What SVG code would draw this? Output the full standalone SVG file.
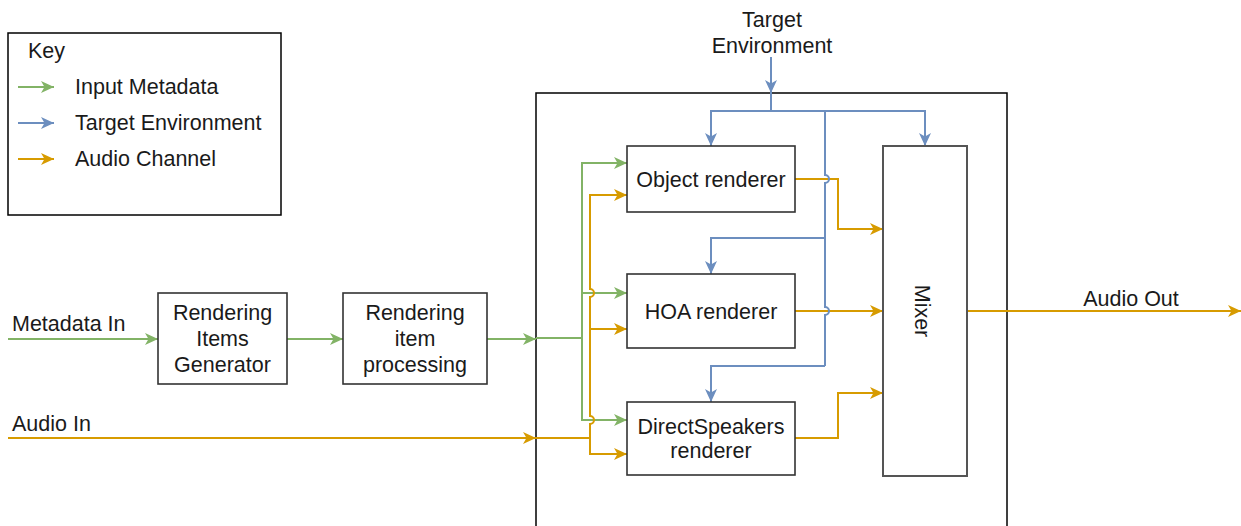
<svg xmlns="http://www.w3.org/2000/svg" width="1241" height="526" viewBox="0 0 1241 526">
<style>
text{font-family:"Liberation Sans",Arial,Helvetica,sans-serif;font-size:21.5px;fill:#1a1a1a}
.c{text-anchor:middle}
.node{fill:#fff;stroke:#333;stroke-width:1.6}
.frame{fill:none;stroke:#000;stroke-width:1.5}
.g{fill:none;stroke:#82b366;stroke-width:2}
.b{fill:none;stroke:#6c8ebf;stroke-width:2}
.o{fill:none;stroke:#d79b00;stroke-width:2}
.ga{marker-end:url(#mg)}
.ba{marker-end:url(#mb)}
.oa{marker-end:url(#mo)}
</style>
<defs>
<marker id="mg" markerUnits="userSpaceOnUse" markerWidth="15" markerHeight="15" refX="14" refY="7" orient="auto"><path d="M1,1 L14,7 L1,13 L4.5,7 Z" fill="#82b366"/></marker>
<marker id="mb" markerUnits="userSpaceOnUse" markerWidth="15" markerHeight="15" refX="14" refY="7" orient="auto"><path d="M1,1 L14,7 L1,13 L4.5,7 Z" fill="#6c8ebf"/></marker>
<marker id="mo" markerUnits="userSpaceOnUse" markerWidth="15" markerHeight="15" refX="14" refY="7" orient="auto"><path d="M1,1 L14,7 L1,13 L4.5,7 Z" fill="#d79b00"/></marker>
</defs>
<rect width="1241" height="526" fill="#fff"/>

<g id="key">
<rect class="frame" x="8" y="33" width="273" height="182"/>
<text x="28" y="58">Key</text>
<line class="g ga" x1="18" y1="87" x2="54" y2="87"/>
<line class="b ba" x1="18" y1="123" x2="54" y2="123"/>
<line class="o oa" x1="18" y1="159" x2="54" y2="159"/>
<text x="75" y="94">Input Metadata</text>
<text x="75" y="130">Target Environment</text>
<text x="75" y="166">Audio Channel</text>
</g>

<g id="renderer-container">
<rect class="frame" x="536" y="93" width="471" height="440"/>
</g>

<g id="labels">
<text class="c" x="772" y="27">Target</text>
<text class="c" x="772" y="53">Environment</text>
<text x="12" y="331">Metadata In</text>
<text x="12" y="431">Audio In</text>
<text class="c" x="1131" y="306">Audio Out</text>
</g>

<g id="connectors">
<line class="g ga" x1="8" y1="339" x2="158" y2="339"/>
<line class="g ga" x1="287" y1="339" x2="343" y2="339"/>
<line class="g ga" x1="487" y1="339" x2="536" y2="339"/>
<path class="g" d="M536,338 L582,338"/>
<path class="g ga" d="M582,338 L582,163 L627,163"/>
<path class="g ga" d="M582,293 L627,293"/>
<path class="g ga" d="M582,338 L582,420 L627,420"/>
<line class="o oa" x1="8" y1="438" x2="536" y2="438"/>
<path class="o" d="M536,438 L590,438"/>
<path class="o oa" d="M590,438 L590,424 A4 4 0 0 0 590,416 L590,297 A4 4 0 0 0 590,289 L590,195 L627,195"/>
<path class="o oa" d="M590,329 L627,329"/>
<path class="o oa" d="M590,438 L590,454 L627,454"/>
<path class="o oa" d="M795,179 L838,179 L838,229 L883,229"/>
<path class="o oa" d="M795,311 L883,311"/>
<path class="o oa" d="M795,438 L838,438 L838,393 L883,393"/>
<line class="o oa" x1="967" y1="311" x2="1241" y2="311"/>
<line class="b ba" x1="771" y1="57" x2="771" y2="93"/>
<path class="b" d="M771,93 L771,111"/>
<path class="b ba" d="M771,111 L711,111 L711,146"/>
<path class="b ba" d="M771,111 L925,111 L925,146"/>
<path class="b" d="M825,111 L825,175 A4 4 0 0 1 825,183 L825,307 A4 4 0 0 1 825,315 L825,366"/>
<path class="b ba" d="M825,238 L711,238 L711,274"/>
<path class="b ba" d="M825,366 L711,366 L711,402"/>
</g>

<g id="rendering-items-generator">
<rect class="node" x="158" y="293" width="129" height="91"/>
<text class="c" x="222.5" y="320">Rendering</text>
<text class="c" x="222.5" y="346">Items</text>
<text class="c" x="222.5" y="372">Generator</text>
</g>
<g id="rendering-item-processing">
<rect class="node" x="343" y="293" width="144" height="91"/>
<text class="c" x="415" y="320">Rendering</text>
<text class="c" x="415" y="346">item</text>
<text class="c" x="415" y="372">processing</text>
</g>
<g id="object-renderer">
<rect class="node" x="627" y="146" width="168" height="66"/>
<text class="c" x="711" y="187">Object renderer</text>
</g>
<g id="hoa-renderer">
<rect class="node" x="627" y="274" width="168" height="74"/>
<text class="c" x="711" y="319">HOA renderer</text>
</g>
<g id="directspeakers-renderer">
<rect class="node" x="627" y="402" width="168" height="73"/>
<text class="c" x="711" y="434">DirectSpeakers</text>
<text class="c" x="711" y="458">renderer</text>
</g>
<g id="mixer">
<rect class="node" x="883" y="146" width="84" height="330" style="stroke:#555;stroke-width:2"/>
<text class="c" x="925" y="321" transform="rotate(90 925 311)">Mixer</text>
</g>
</svg>
